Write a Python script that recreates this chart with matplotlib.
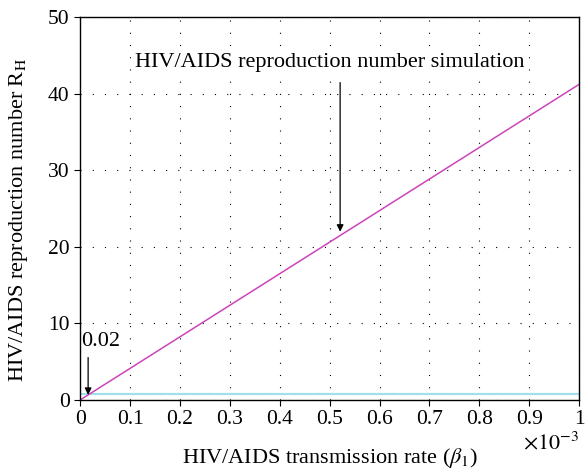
import numpy as np
import matplotlib
matplotlib.use('Agg')
import matplotlib.pyplot as plt
from matplotlib.ticker import FuncFormatter

# data
beta = [0.0, 1.0e-3]
R_H = [0.0, 41.2]
threshold = [0.8, 0.8]

xticks = np.arange(0, 1.01e-3, 0.1e-3)
yticks = [0, 10, 20, 30, 40, 50]

plt.rcParams['font.family'] = ['Liberation Serif', 'DejaVu Serif']
plt.rcParams['mathtext.fontset'] = 'stix'
fs = 16

fig = plt.figure(figsize=(5.85, 4.70), dpi=100)
ax = fig.add_axes([0.137, 0.149, 0.853, 0.815])

ax.plot(beta, threshold, color='#a3dfe9', lw=1.6)
ax.plot(beta, R_H, color='#cc44bb', lw=1.1)

ax.set_xlim(0, 1e-3)
ax.set_ylim(0, 50)
ax.set_xticks(xticks)
ax.set_yticks(yticks)
ax.xaxis.set_major_formatter(FuncFormatter(lambda v, p: '%g' % round(v * 1e3, 3)))
ax.grid(True, color='k', linestyle=(0, (1, 10)), lw=0.8)
ax.tick_params(direction='out', length=4, width=0.8, labelsize=15.5)
for s in ax.spines.values():
    s.set_linewidth(1.0)

ax.set_xlabel(r'HIV/AIDS transmission rate ($\beta_1$)', fontsize=fs, labelpad=12)
ax.set_ylabel(r'HIV/AIDS reproduction number R$_{\mathrm{H}}$', fontsize=fs)
ax.yaxis.set_label_coords(-0.10, 0.47)
ax.text(1e-3, -4.2, r'$\times10^{-3}$', ha='right', va='top', fontsize=fs)

ax.annotate('', xy=(0.521e-3, 21.6), xytext=(0.521e-3, 41.8),
            arrowprops=dict(arrowstyle='-|>', color='k', lw=0.9, mutation_scale=10))
ax.text(0.50e-3, 44.0, 'HIV/AIDS reproduction number simulation',
        ha='center', va='center', fontsize=fs,
        bbox=dict(facecolor='white', edgecolor='none', pad=0.5))

ax.annotate('', xy=(0.016e-3, 0.3), xytext=(0.016e-3, 5.9),
            arrowprops=dict(arrowstyle='-|>', color='k', lw=0.9, mutation_scale=10))
ax.text(0.042e-3, 7.6, '0.02', ha='center', va='center', fontsize=fs)

fig.savefig('out.png', dpi=100)
